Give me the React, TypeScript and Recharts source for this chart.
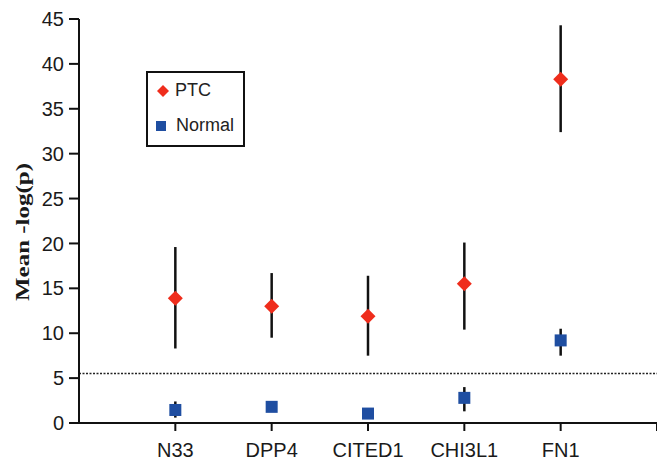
import { ScatterChart, Scatter, XAxis, YAxis, ErrorBar, ReferenceLine, Legend } from "recharts";

// gene names along the x axis
const genes = ["N33", "DPP4", "CITED1", "CHI3L1", "FN1"];
const yTicks = [0, 5, 10, 15, 20, 25, 30, 35, 40, 45];

// PTC mean -log(p) with the ends of the error bars
const ptcMean = [13.9, 13.0, 11.9, 15.5, 38.3];
const ptcLow = [8.3, 9.5, 7.5, 10.4, 32.4];
const ptcHigh = [19.6, 16.7, 16.4, 20.1, 44.3];

// Normal tissue
const normalMean = [1.45, 1.8, 1.05, 2.8, 9.2];
const normalLow = [0.6, 1.3, 0.7, 1.3, 7.5];
const normalHigh = [2.4, 2.3, 1.4, 4.0, 10.5];

const cutoff = 5.5;

const RED = "#ef2d1c";
const BLUE = "#1f4ea1";
const FONT = "'Liberation Sans', Arial, sans-serif";

const ptcData = genes.map((g, i) => ({
  x: i + 1,
  y: ptcMean[i],
  err: [ptcMean[i] - ptcLow[i], ptcHigh[i] - ptcMean[i]],
}));
const normalData = genes.map((g, i) => ({
  x: i + 1,
  y: normalMean[i],
  err: [normalMean[i] - normalLow[i], normalHigh[i] - normalMean[i]],
}));

const Diamond = (props: any) => {
  const { cx, cy } = props;
  const r = 7.5;
  return <path d={`M${cx},${cy - r}L${cx + r},${cy}L${cx},${cy + r}L${cx - r},${cy}Z`} fill={RED} />;
};

const Square = (props: any) => {
  const { cx, cy } = props;
  const s = 12;
  return <rect x={cx - s / 2} y={cy - s / 2} width={s} height={s} fill={BLUE} />;
};

const LegendBox = () => (
  <div
    style={{
      border: "2px solid #111",
      width: 95,
      height: 72,
      background: "#fff",
      fontFamily: FONT,
      fontSize: 18,
      color: "#222",
      position: "relative",
    }}
  >
    <svg width={16} height={16} style={{ position: "absolute", left: 7, top: 10 }}>
      <path d="M8,2L14,8L8,14L2,8Z" fill={RED} />
    </svg>
    <span style={{ position: "absolute", left: 27, top: 7 }}>PTC</span>
    <svg width={16} height={16} style={{ position: "absolute", left: 5, top: 45 }}>
      <rect x={3} y={3} width={10} height={10} fill={BLUE} />
    </svg>
    <span style={{ position: "absolute", left: 28, top: 42 }}>Normal</span>
  </div>
);

const YLabel = (props: any) => {
  const { viewBox } = props;
  const x = viewBox.x + 25;
  const y = viewBox.y + viewBox.height / 2 + 11;
  return (
    <text
      x={x}
      y={y}
      transform={`rotate(-90 ${x} ${y})`}
      textAnchor="middle"
      dominantBaseline="middle"
      fontFamily="'Liberation Serif', 'Times New Roman', serif"
      fontWeight="bold"
      fontSize={19}
      textLength={138}
      lengthAdjust="spacingAndGlyphs"
      fill="#1a1a1a"
    >
      Mean -log(p)
    </text>
  );
};

export default function App() {
  return (
    <div style={{ position: "absolute", left: 0, top: 0, background: "#fff" }}>
      <ScatterChart width={657} height={468} margin={{ top: 19, right: 0, bottom: 0, left: 0 }}>
        <XAxis
          type="number"
          dataKey="x"
          domain={[0, 6]}
          ticks={[1, 2, 3, 4, 5, 6]}
          tickFormatter={(v: number) => genes[v - 1] ?? ""}
          height={45}
          tickSize={8}
          tickMargin={12}
          axisLine={{ stroke: "#111", strokeWidth: 2 }}
          tickLine={{ stroke: "#111", strokeWidth: 2 }}
          tick={{ fill: "#1a1a1a", fontSize: 20, fontFamily: FONT }}
        />
        <YAxis
          type="number"
          dataKey="y"
          domain={[0, 45]}
          ticks={yTicks}
          width={79}
          tickSize={10}
          tickMargin={5}
          axisLine={{ stroke: "#111", strokeWidth: 2 }}
          tickLine={{ stroke: "#111", strokeWidth: 2 }}
          tick={{ fill: "#1a1a1a", fontSize: 20, fontFamily: FONT }}
          label={<YLabel />}
        />
        <ReferenceLine y={cutoff} stroke="#222" strokeWidth={1.5} strokeDasharray="2 1.5" />
        <Legend
          layout="vertical"
          align="center"
          verticalAlign="middle"
          content={<LegendBox />}
          wrapperStyle={{ left: 146, top: 71, width: 99 }}
        />
        <Scatter name="PTC" data={ptcData} shape={<Diamond />} isAnimationActive={false}>
          <ErrorBar dataKey="err" direction="y" width={0} stroke="#111" strokeWidth={2.5} />
        </Scatter>
        <Scatter name="Normal" data={normalData} shape={<Square />} isAnimationActive={false}>
          <ErrorBar dataKey="err" direction="y" width={0} stroke="#111" strokeWidth={2.5} />
        </Scatter>
      </ScatterChart>
    </div>
  );
}
